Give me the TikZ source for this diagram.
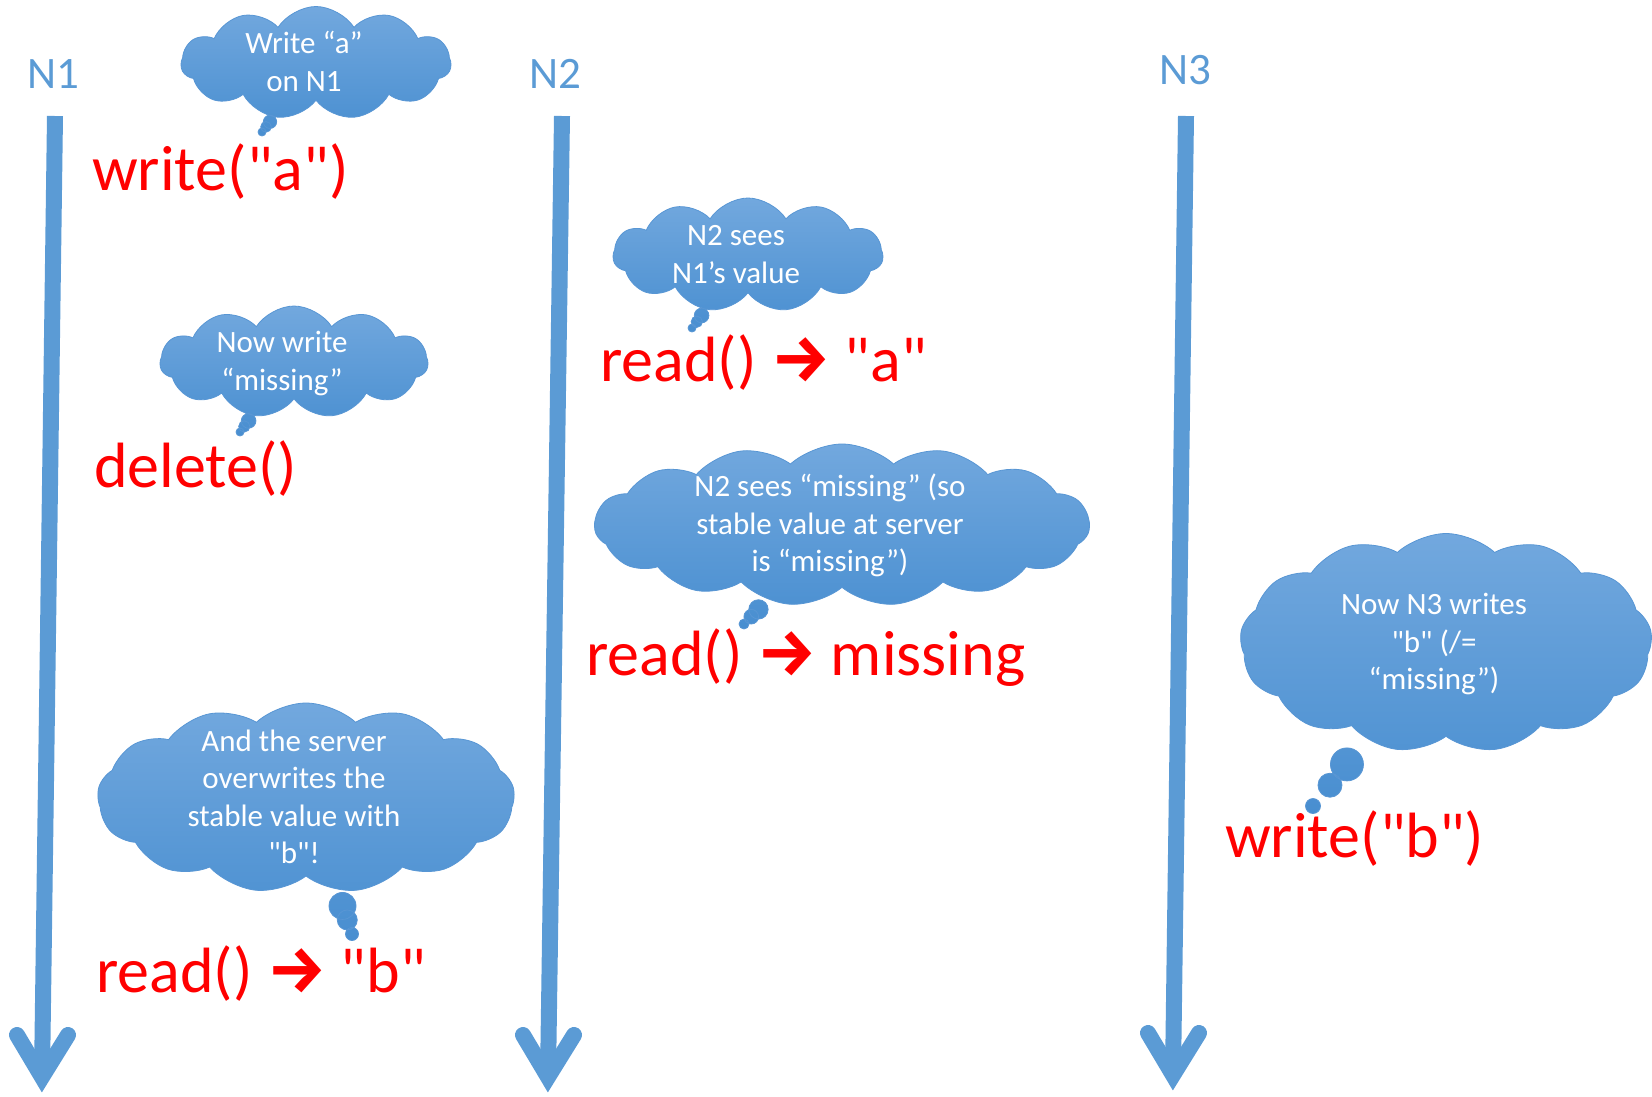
\documentclass[tikz,border=0pt]{standalone}
\usepackage{fontspec}
\setmainfont{Carlito}[Ligatures=TeXOff]
\newfontfamily\arrowfont{Fira Sans}
\usetikzlibrary{shapes.callouts,calc}

\definecolor{lane}{RGB}{91,155,213}
\definecolor{cloudtop}{RGB}{114,168,222}
\definecolor{cloudbot}{RGB}{72,142,208}
\definecolor{cloudedge}{RGB}{88,150,212}
\definecolor{opred}{RGB}{255,0,0}

\newcommand{\yields}{{\arrowfont\bfseries\fontsize{66}{70}\selectfont →}}
% cloud text block: takes no room of its own (the cloud is sized by its
% minimum width and height) and sits a little left of the cloud's centre
\newcommand{\cloudlines}[1]{\makebox[0pt]{\raisebox{-8pt}[0pt][0pt]{\begin{tabular}{@{}c@{}}#1\end{tabular}}\hspace*{24pt}}}

\begin{document}
\begin{tikzpicture}[x=1pt,y=-1pt,
  lifeline/.style={draw=lane,line width=16pt},
  lifehead/.style={draw=lane,line width=16pt,line cap=round,line join=miter},
  lanelabel/.style={text=lane,font=\fontsize{45}{50}\selectfont,inner sep=0pt,anchor=base},
  optext/.style={text=opred,font=\fontsize{64}{70}\selectfont,inner sep=0pt,anchor=base west},
  thought/.style={cloud callout,cloud puffs=11,cloud puff arc=115,cloud ignores aspect,
    top color=cloudtop,bottom color=cloudbot,draw=cloudedge,line width=0.8pt,
    text=white,font=\fontsize{31}{37.5}\selectfont,inner sep=0pt,
    callout pointer segments=3},
  bigthought/.style={thought,cloud puff arc=85}
]
\useasboundingbox (0,0) rectangle (1652,1096);

% process lifelines with open arrowheads
\coordinate (t1) at (55,116);   \coordinate (v1) at (42,1077);
\coordinate (t2) at (562,116);  \coordinate (v2) at (548,1077);
\coordinate (t3) at (1186,116); \coordinate (v3) at (1173,1075);
\foreach \i in {1,2,3}{
  \draw[lifeline] (t\i) -- (v\i);
  \draw[lifehead] ($(v\i)+(-25,-42)$) -- (v\i) -- ($(v\i)+(26,-42)$);
}

% process names
\node[lanelabel] (n1) at (53,88) {N1};
\node[lanelabel] (n2) at (555,88) {N2};
\node[lanelabel] (n3) at (1185,84) {N3};

% operations
\node[optext] (opwa) at (92,190) {write("a")};
\node[optext] (opdel) at (94,487) {delete()};
\node[optext] (oprb) at (96,992) {read() \yields{} "b"};
\node[optext] (opra) at (600,381) {read() \yields{} "a"};
\node[optext] (oprm) at (586,675) {read() \yields{} missing};
\node[optext] (opwb) at (1225,857) {write("b")};

% thought clouds
\node[thought,minimum width=270pt,minimum height=113pt,
  callout absolute pointer={(262,132)},
  callout pointer start size=16pt,callout pointer end size=8pt]
  (c1) at (316,63) {\cloudlines{Write “a”\\on N1}};
\node[thought,minimum width=268pt,minimum height=112pt,
  callout absolute pointer={(240,432)},
  callout pointer start size=18pt,callout pointer end size=8pt]
  (c2) at (294,362) {\cloudlines{Now write\\“missing”}};
\node[thought,minimum width=270pt,minimum height=114pt,
  callout absolute pointer={(692,328)},
  callout pointer start size=18pt,callout pointer end size=8pt]
  (c3) at (748,255) {\cloudlines{N2 sees\\N1’s value}};
\node[bigthought,cloud puffs=15,minimum width=495pt,minimum height=162pt,
  callout absolute pointer={(744,624)},
  callout pointer start size=24pt,callout pointer end size=10pt]
  (c4) at (842,525) {\cloudlines{N2 sees “missing” (so\\stable value at server\\is “missing”)}};
\node[bigthought,cloud puffs=13,minimum width=412pt,minimum height=219pt,
  callout absolute pointer={(1313,806)},
  callout pointer start size=42pt,callout pointer end size=15pt]
  (c5) at (1446,643) {\cloudlines{Now N3 writes\\"b" (/=\\“missing”)}};
\node[bigthought,cloud puffs=13,minimum width=417pt,minimum height=190pt,
  callout absolute pointer={(352,934)},
  callout pointer start size=34pt,callout pointer end size=13pt]
  (c6) at (306,798) {\cloudlines{And the server\\overwrites the\\stable value with\\"b"!}};
\end{tikzpicture}
\end{document}
